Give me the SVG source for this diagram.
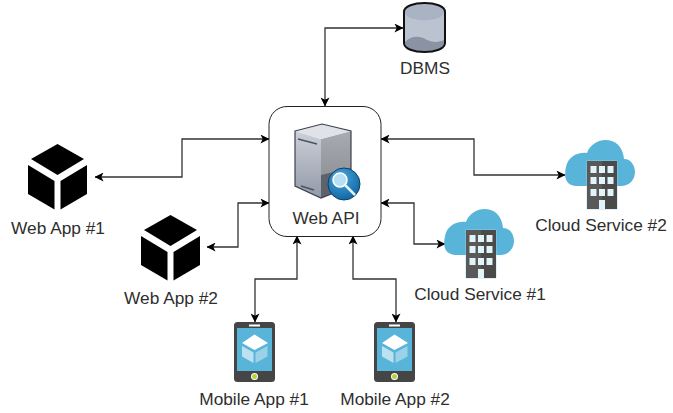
<svg xmlns="http://www.w3.org/2000/svg" width="673" height="413" viewBox="0 0 673 413">
<defs>
<style>
.lbl{font-family:"Liberation Sans",Arial,sans-serif;font-size:17.300px;fill:#2e2e2e;text-anchor:middle}
.con{fill:none;stroke:#333;stroke-width:1.300}
.win{fill:#e3f3fa}
</style>
<marker id="a" viewBox="0 0 10 10" refX="9.500" refY="5" markerWidth="9" markerHeight="9" markerUnits="userSpaceOnUse" orient="auto-start-reverse"><path d="M0 0L10 5L0 10L2.500 5Z" fill="#000"/></marker>
<linearGradient id="srvF" x1="0" y1="0" x2="0" y2="1"><stop offset="0" stop-color="#ccd0d8"/><stop offset="1" stop-color="#9299a8"/></linearGradient>
<linearGradient id="srvR" x1="0" y1="0" x2="0" y2="1"><stop offset="0" stop-color="#a8abb0"/><stop offset="1" stop-color="#85888e"/></linearGradient>
<radialGradient id="lens" cx=".4" cy=".3" r=".8"><stop offset="0" stop-color="#4ba6dd"/><stop offset="1" stop-color="#0a5f9e"/></radialGradient>
<g id="cube"><path d="M29.500 0L56 15L29.500 31L3 15Z"/><path d="M0 21L26.500 37V65.500L0 50Z"/><path d="M59 21V50L32.500 65.500V37Z"/></g>
<g id="phone"><rect width="41" height="60" rx="3.500" fill="#454545"/><rect x="15" y="2.500" width="11" height="2" fill="#fff"/><rect x="3" y="6" width="35" height="43" fill="#59b4d9"/><path d="M20.500 12.500L34 21L20.500 28L8 21Z" fill="#fff"/><path d="M8 24L19.500 30.500V41L8 34.500Z" fill="#fff" opacity=".6"/><path d="M33.500 24V34.500L21.500 41V30.500Z" fill="#fff" opacity=".4"/><circle cx="20.500" cy="54.500" r="3.500" fill="#fff"/><circle cx="20.500" cy="54.500" r="2.500" fill="#b8d432"/></g>
<g id="cloud"><path d="M10 46C-1 45-2 36 0 27C2 17 11 12 21 13C24 4 33 0 39 0C50 0 57 7 58 19C66 19 69 27 69 32C69 39 64 46 55 46Z" fill="#59b4d9"/><rect x="20.500" y="20.500" width="31" height="49" rx="1" fill="#a5d6ea" opacity=".7"/><rect x="21" y="21" width="30" height="48" fill="#595959"/><path d="M36 21H51V69H36Z" fill="#4a4a4a"/><g class="win"><rect x="24.500" y="26" width="6" height="7"/><rect x="33" y="26" width="6" height="7"/><rect x="41.500" y="26" width="6" height="7"/><rect x="24.500" y="37" width="6" height="7"/><rect x="33" y="37" width="6" height="7"/><rect x="41.500" y="37" width="6" height="7"/><rect x="24.500" y="49" width="6" height="7"/><rect x="33" y="49" width="6" height="7"/><rect x="41.500" y="49" width="6" height="7"/><rect x="33" y="60" width="6" height="9"/></g></g>
</defs>
<rect width="673" height="413" fill="#fff"/>
<g id="connectors">
<path class="con" marker-start="url(#a)" marker-end="url(#a)" d="M325 106V28H403"/>
<path class="con" marker-start="url(#a)" marker-end="url(#a)" d="M269 139H182V177H95"/>
<path class="con" marker-start="url(#a)" marker-end="url(#a)" d="M269 203H238V247H207"/>
<path class="con" marker-start="url(#a)" marker-end="url(#a)" d="M297 236V279H255V322"/>
<path class="con" marker-start="url(#a)" marker-end="url(#a)" d="M353 236V279H396V322"/>
<path class="con" marker-start="url(#a)" marker-end="url(#a)" d="M381 139H474V175H565"/>
<path class="con" marker-start="url(#a)" marker-end="url(#a)" d="M381 203H414V244H445"/>
</g>
<g id="dbms">
<path d="M404 12C404 0 445 0 445 12V43C445 55 404 55 404 43Z" fill="#bcc3d0"/>
<path d="M405 12C405 23 444 23 444 12C444 0 405 0 405 12Z" fill="#aab3c4"/>
<path d="M405 42C412 35 420 36 427 40C434 43 440 42 444 40V43C444 54 405 54 405 43Z" fill="#8a92a3"/>
<path d="M404 12C404 0 445 0 445 12V43C445 55 404 55 404 43Z" fill="none" stroke="#111" stroke-width="2"/>
<text class="lbl" x="425" y="74">DBMS</text>
</g>
<g id="webapi">
<rect x="269" y="106.500" width="112" height="130" rx="18" fill="#fff" stroke="#222" stroke-width="1"/>
<path d="M321 139L351 131V186L321 198Z" fill="url(#srvR)"/>
<path d="M321 175L351 168V186L321 198Z" fill="#5e626a"/>
<path d="M295 131L321 139V198L295 186Z" fill="url(#srvF)"/>
<path d="M295 131L322 124L351 131L321 139Z" fill="#dfe2e8"/>
<path d="M295 131L322 124L351 131V186L321 198L295 186Z" fill="none" stroke="#3c4250" stroke-width="1.200"/>
<path d="M298 139L317 144M301 186L314 190" stroke="#4c5260" stroke-width="1.500" fill="none"/>
<circle cx="344" cy="184" r="16" fill="url(#lens)" stroke="#0c3f6c" stroke-width="1"/>
<circle cx="340" cy="180" r="7" fill="#b9e0f2" stroke="#fff" stroke-width="1.500"/>
<path d="M345 185L355 195" stroke="#e6f0f5" stroke-width="2.500"/>
<text class="lbl" x="326" y="224">Web API</text>
</g>
<g id="webapp1"><use href="#cube" x="28" y="144"/><text class="lbl" x="58" y="234">Web App #1</text></g>
<g id="webapp2"><use href="#cube" x="141" y="215"/><text class="lbl" x="171" y="304">Web App #2</text></g>
<g id="mobile1"><use href="#phone" x="234" y="322"/><text class="lbl" x="254" y="405">Mobile App #1</text></g>
<g id="mobile2"><use href="#phone" x="374" y="322"/><text class="lbl" x="395" y="405">Mobile App #2</text></g>
<g id="cloud1"><use href="#cloud" x="445" y="209"/><text class="lbl" x="480" y="300">Cloud Service #1</text></g>
<g id="cloud2"><use href="#cloud" x="566" y="140"/><text class="lbl" x="601" y="231">Cloud Service #2</text></g>
</svg>
